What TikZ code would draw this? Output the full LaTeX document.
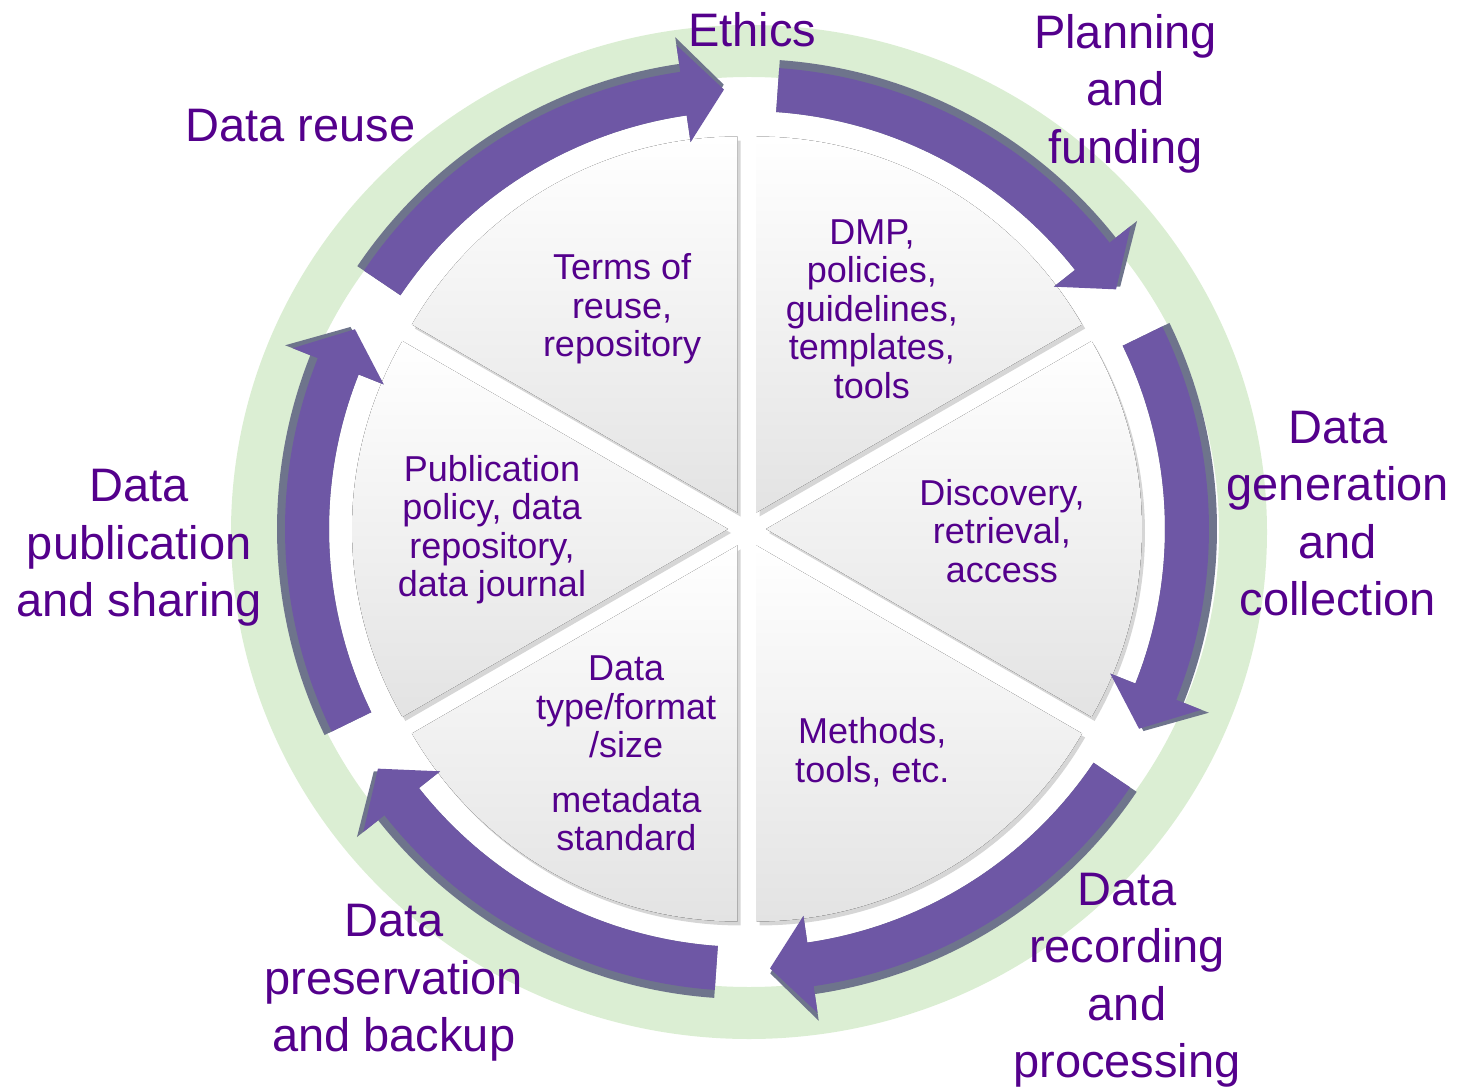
\documentclass[tikz,border=0pt]{standalone}
\usepackage{fontspec}
\setmainfont{Liberation Sans}
\definecolor{labelpurple}{RGB}{84,0,140}
\definecolor{arrowpurple}{RGB}{110,87,165}
\definecolor{arrowedge}{RGB}{110,116,140}
\definecolor{ringgreen}{RGB}{219,238,211}
\tikzset{
  stage/.style={text=labelpurple, font=\fontsize{47}{57.5}\selectfont, align=center, inner sep=0pt},
  inner/.style={text=labelpurple, font=\fontsize{36}{38.5}\selectfont, align=center, inner sep=0pt},
}
\begin{document}
\begin{tikzpicture}[x=1pt,y=1pt]
      \useasboundingbox (-747,-560) rectangle (711,529);
      % green ring
      \fill[ringgreen, even odd rule]
        (2,-3) ellipse [x radius=518, y radius=507]
        (2,-3) ellipse [x radius=470, y radius=455];
      % pie wedges
      \foreach \k in {0,...,5} {
        \pgfmathsetmacro\a{90-60*\k}
        \pgfmathsetmacro\b{30-60*\k}
        \pgfmathsetmacro\m{60-60*\k}
        \begin{scope}[shift={(\m:19)}]
          \fill[black, opacity=0.16] (3,-4) -- ++(\a:376) arc[start angle=\a, end angle=\b, radius=376] -- cycle;
          \fill[top color=white, bottom color=black!11] (0,0) -- (\a:376) arc[start angle=\a, end angle=\b, radius=376] -- cycle;
        \end{scope}
      }
      % cycle arrows
      \foreach \k in {0,...,5} {
        \pgfmathsetmacro\s{86-60*\k}
        \pgfmathsetmacro\e{33-60*\k}
        \pgfmathsetmacro\h{38.3-60*\k}
        \fill[arrowedge] (\s:470) arc[start angle=\s, end angle=\h, radius=470]
          -- (\h:497) -- (\e:445) -- (\h:391) -- (\h:418)
          arc[start angle=\h, end angle=\s, radius=418] -- cycle;
        \fill[arrowpurple] (\s:462) arc[start angle=\s, end angle=\h, radius=462]
          -- (\h:489) -- (\e:440) -- (\h:391) -- (\h:418)
          arc[start angle=\h, end angle=\s, radius=418] -- cycle;
      }
      % stage labels
      \draw
        (89.4:499) node[stage] (ethics){Ethics}
        (49.0:577) node[stage] (planning){Planning\\and\\funding}
        (1.5:591) node[stage] (generation){Data\\generation\\and\\collection}
        (-49.9:590) node[stage] (recording){Data\\recording\\and\\processing}
        (-127.9:575) node[stage] (preservation){Data\\preservation\\and backup}
        (181.8:608) node[stage] (publication){Data\\publication\\and sharing}
        (137.9:602) node[stage] (reuse){Data reuse};
      % wedge labels
      \draw
        (119.6:253) node[inner] (terms){Terms of\\reuse,\\repository}
        (60.4:253) node[inner] (dmp){DMP,\\policies,\\guidelines,\\templates,\\tools}
        (-0.4:255) node[inner] (discovery){Discovery,\\retrieval,\\access}
        (-60.7:256) node[inner] (methods){Methods,\\tools, etc.}
        (-124.2:215) node[inner] (datatype){Data\\type/format\\/size}
        (-112.6:314) node[inner] (metadata){metadata\\standard}
        (180.2:255) node[inner] (pubpolicy){Publication\\policy, data\\repository,\\data journal};
    \end{tikzpicture}
\end{document}
